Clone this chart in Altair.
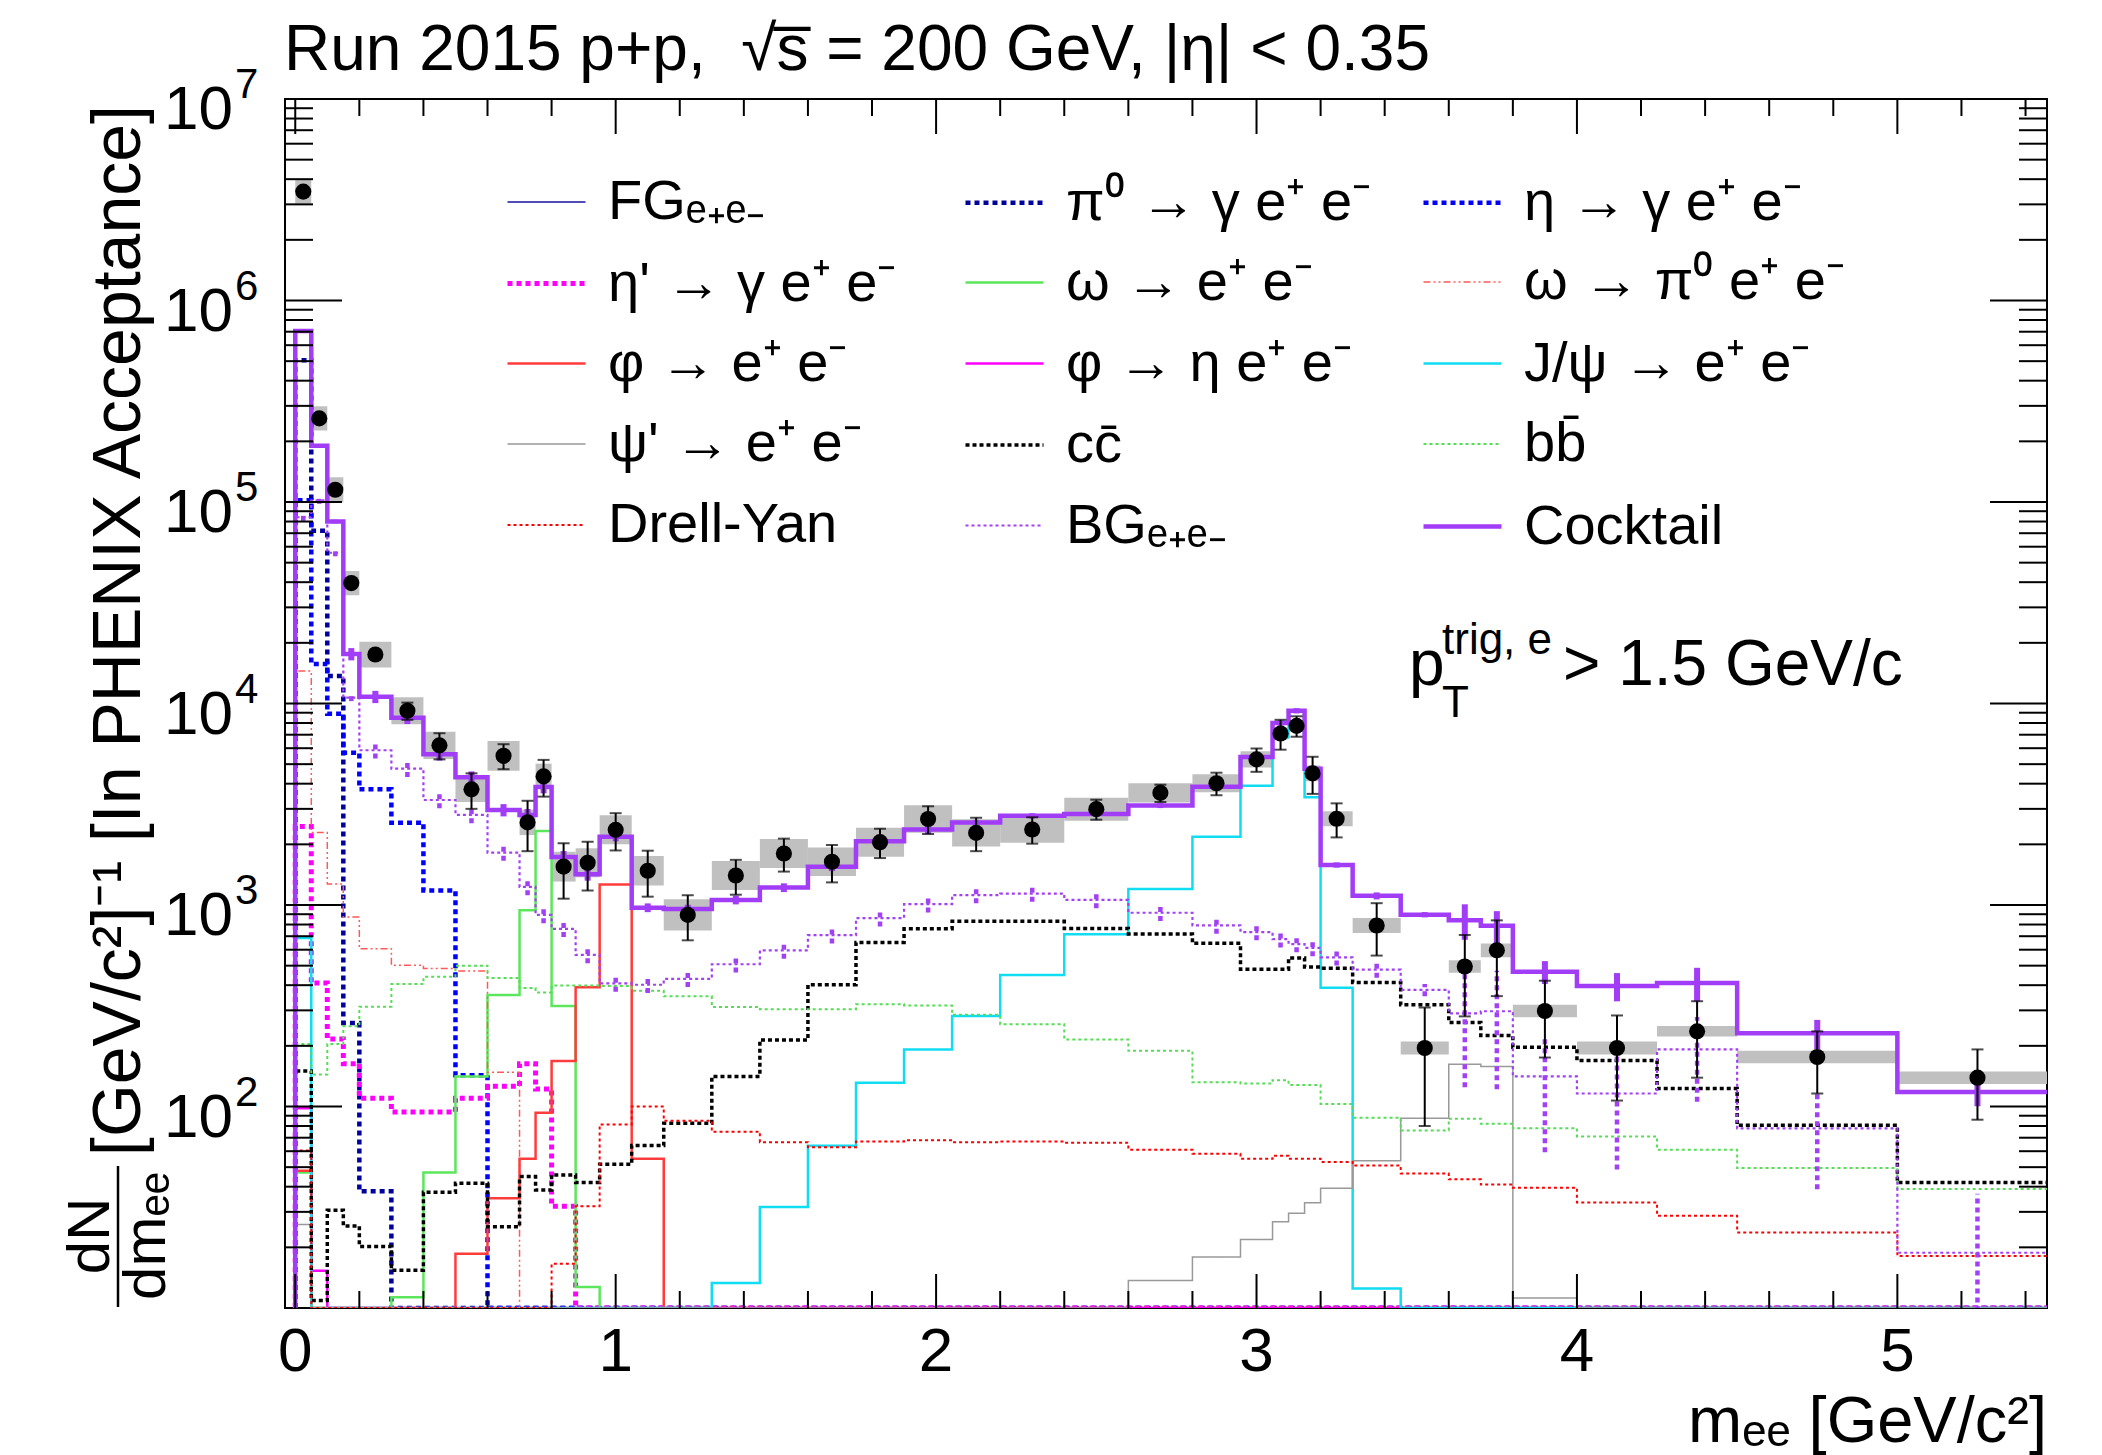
import altair as alt
import pandas as pd

# ---------------- data ----------------
edges = [0, 0.05, 0.1, 0.15, 0.2, 0.3, 0.4, 0.5, 0.6, 0.7, 0.75, 0.8, 0.875, 0.95,
         1.05, 1.15, 1.3, 1.45, 1.6, 1.75, 1.9, 2.05, 2.2, 2.4, 2.6, 2.8, 2.95, 3.05,
         3.1, 3.15, 3.2, 3.3, 3.45, 3.6, 3.7, 3.8, 4.0, 4.25, 4.5, 5.0, 5.5]

data_y = [3.47e6, 2.6e5, 1.15e5, 3.96e4, 1.75e4, 9.2e3, 6.2e3, 3.75e3, 5.5e3, 2.57e3,
          4.35e3, 1.55e3, 1.62e3, 2.36e3, 1.48e3, 893, 1.4e3, 1.8e3, 1.64e3, 2.05e3,
          2.67e3, 2.28e3, 2.37e3, 2.99e3, 3.6e3, 4.02e3, 5.28e3, 7.1e3, 7.74e3, 4.5e3,
          2.68e3, 791, 195, 495, 596, 298, 195, 236, 176, 139]
stat_err = [3e4, 3e3, 1.5e3, 800, 700, 900, 920, 750, 780, 720, 900, 475, 440, 495, 380,
            225, 275, 335, 345, 340, 420, 430, 355, 340, 355, 515, 700, 1200, 900, 940,
            515, 230, 115, 215, 243, 123, 88, 97, 60, 53]
sys_dex = [0.06, 0.06, 0.062, 0.06, 0.064, 0.067, 0.068, 0.063, 0.074, 0.063, 0.063,
           0.074, 0.072, 0.072, 0.073, 0.078, 0.072, 0.072, 0.071, 0.072, 0.068, 0.068,
           0.066, 0.057, 0.048, 0.045, 0.04, 0.029, 0.026, 0.039, 0.037, 0.037, 0.032,
           0.031, 0.034, 0.031, 0.032, 0.026, 0.031, 0.031]

pi0 = [5.05e5, 7.2e4, 1.37e4, 260, 38, 0, 0, 0, 0, 0, 0, 0, 0, 0, 0, 0, 0, 0, 0, 0,
       0, 0, 0, 0, 0, 0, 0, 0, 0, 0, 0, 0, 0, 0, 0, 0, 0, 0, 0, 0]
eta = [1.02e5, 1.57e4, 8.9e3, 5.7e3, 3.75e3, 2.56e3, 1.18e3, 143, 0, 0, 0, 0, 0, 0, 0,
       0, 0, 0, 0, 0, 0, 0, 0, 0, 0, 0, 0, 0, 0, 0, 0, 0, 0, 0, 0, 0, 0, 0, 0, 0]
etap = [2450, 410, 216, 163, 110, 94, 94, 110, 126, 163, 122, 32, 0, 0, 0, 0, 0, 0, 0,
        0, 0, 0, 0, 0, 0, 0, 0, 0, 0, 0, 0, 0, 0, 0, 0, 0, 0, 0, 0, 0]
omega_ee = [47, 0, 0, 0, 0, 11.3, 47, 141, 358, 943, 2330, 315, 12.7, 0, 0, 0, 0, 0,
            0, 0, 0, 0, 0, 0, 0, 0, 0, 0, 0, 0, 0, 0, 0, 0, 0, 0, 0, 0, 0, 0]
omega_pi0 = [1.45e4, 2290, 1270, 873, 607, 502, 484, 470, 148, 0, 0, 0, 0, 0, 0, 0, 0,
             0, 0, 0, 0, 0, 0, 0, 0, 0, 0, 0, 0, 0, 0, 0, 0, 0, 0, 0, 0, 0, 0, 0]
phi_ee = [48, 0, 0, 0, 0, 0, 0, 18.6, 35, 55, 93, 168, 391, 1265, 55, 0, 0, 0, 0, 0,
          0, 0, 0, 0, 0, 0, 0, 0, 0, 0, 0, 0, 0, 0, 0, 0, 0, 0, 0, 0]
phi_eta = [98, 15.3, 0, 0, 0, 0, 0, 0, 0, 0, 0, 0, 0, 0, 0, 0, 0, 0, 0, 0, 0, 0, 0, 0,
           0, 0, 0, 0, 0, 0, 0, 0, 0, 0, 0, 0, 0, 0, 0, 0]
jpsi = [685, 0, 0, 0, 0, 0, 0, 0, 0, 0, 0, 0, 0, 0, 0, 0, 13.3, 31.7, 63.8, 131, 192,
        281, 450, 715, 1200, 2180, 3910, 6800, 7900, 3430, 388, 12.5, 0, 0, 0, 0, 0, 0,
        0, 0]
psi2 = [26, 0, 0, 0, 0, 0, 0, 0, 0, 0, 0, 0, 0, 0, 0, 0, 0, 0, 0, 0, 0, 0, 0, 0, 13.7,
        17.9, 21.9, 26.8, 29.5, 33.3, 39.3, 53.8, 87.5, 162, 158, 11.2, 0, 0, 0, 0]
ccbar = [150, 10.9, 30.6, 25.5, 20.2, 15.4, 37.5, 41.6, 25.3, 44.9, 38.5, 45.7, 41.9,
         51.7, 64, 82.6, 141, 214, 402, 652, 762, 830, 830, 765, 718, 645, 480, 480, 546,
         492, 485, 413, 320, 261, 225, 197, 169, 123, 80.7, 41.9]
bbbar = [204, 144, 204, 250, 313, 405, 440, 500, 434, 387, 368, 398, 398, 396, 375, 352,
         312, 304, 304, 322, 317, 285, 256, 215, 189, 132, 130, 135, 128, 128, 103, 88,
         76, 87, 82, 78, 71, 61, 49.5, 39]
drell_yan = [60.5, 0, 0, 0, 0, 0, 0, 0, 0, 0, 0, 16.6, 32, 81.5, 100, 85, 75, 66.5, 62.8,
             67, 68, 66.5, 67, 66, 61, 58.3, 55, 57, 55, 55, 53, 51, 46.5, 43.5, 41, 39.5,
             33.4, 28.7, 23.7, 18.1]
bg = [8.4e4, 1.02e5, 5.6e4, 1.07e4, 5.86e3, 4.75e3, 3.32e3, 2.8e3, 1.82e3, 1.23e3, 893,
      762, 565, 408, 402, 430, 508, 595, 708, 860, 1010, 1120, 1140, 1060, 915, 792, 734,
      677, 640, 612, 550, 478, 379, 290, 297, 141, 116, 192, 77.8, 18.8]
bg_rel_err = [0.04, 0.04, 0.04, 0.04, 0.09, 0.09, 0.09, 0.09, 0.09, 0.09, 0.09, 0.09,
              0.09, 0.09, 0.09, 0.09, 0.09, 0.09, 0.09, 0.09, 0.09, 0.09, 0.09, 0.09,
              0.09, 0.09, 0.09, 0.09, 0.09, 0.09, 0.09, 0.09, 0.07, 0.57, 0.59, 0.58,
              0.58, 0.45, 0.5, 0.96]
cocktail = [7.05e5, 1.9e5, 8.0e4, 1.76e4, 1.08e4, 8.5e3, 5.6e3, 4.3e3, 2.96e3, 2.8e3,
            3.85e3, 1.73e3, 1.42e3, 2.18e3, 970, 955, 1.06e3, 1.22e3, 1.55e3, 2.07e3,
            2.37e3, 2.57e3, 2.77e3, 2.83e3, 3.12e3, 3.86e3, 5.42e3, 8.0e3, 9.2e3, 4.75e3,
            1.58e3, 1.11e3, 895, 840, 790, 466, 396, 410, 231, 118]
cocktail_rel_err = [0.02, 0.02, 0.02, 0.07, 0.07, 0.07, 0.07, 0.07, 0.07, 0.07, 0.07,
                    0.07, 0.07, 0.05, 0.05, 0.05, 0.05, 0.05, 0.05, 0.05, 0.05, 0.03,
                    0.03, 0.03, 0.03, 0.03, 0.03, 0.03, 0.03, 0.03, 0.03, 0.04, 0.03,
                    0.2, 0.18, 0.13, 0.16, 0.19, 0.165, 0.15]

# legend entries, in reading order (3 per row)
names = ["FGₑ₊ₑ₋", "π⁰ → γ e⁺ e⁻", "η → γ e⁺ e⁻",
         "η' → γ e⁺ e⁻", "ω → e⁺ e⁻", "ω → π⁰ e⁺ e⁻",
         "φ → e⁺ e⁻", "φ → η e⁺ e⁻", "J/ψ → e⁺ e⁻",
         "ψ' → e⁺ e⁻", "cc̄", "bb̄",
         "Drell-Yan", "BGₑ₊ₑ₋", "Cocktail"]
series_values = [None, pi0, eta, etap, omega_ee, omega_pi0, phi_ee, phi_eta, jpsi, psi2,
                 ccbar, bbbar, drell_yan, bg, cocktail]

x_major = [0, 1, 2, 3, 4, 5]
x_minor = [round(i * 0.2, 1) for i in range(1, 28) if i % 5]
y_major = [1e2, 1e3, 1e4, 1e5, 1e6]
y_minor = [k * 10 ** e for e in range(1, 7) for k in range(2, 10)]
y_labels = [1e2, 1e3, 1e4, 1e5, 1e6, 1e7]
y_exps = ["2", "3", "4", "5", "6", "7"]
x_labels = ["0", "1", "2", "3", "4", "5"]

# ---------------- styles ----------------
colors = ["#14149e", "#00009c", "#0000ff", "#ff00ff", "#5ce65c", "#ff5a5a", "#ff3c3c",
          "#ff00ff", "#10dcf2", "#999999", "#000000", "#55dd55", "#ff0000", "#a240f5",
          "#a13cf7"]
dashes = [[1, 0], [5, 4], [5, 4], [5, 4], [1, 0], [7, 3, 2, 3, 2, 3], [1, 0], [1, 0],
          [1, 0], [1, 0], [4, 3], [3, 3], [3, 3], [3, 3], [1, 0]]
widths = [1.5, 4.5, 4.5, 5, 2.5, 1.5, 2.5, 2.5, 2.5, 1.5, 3.5, 2, 2, 2.2, 4.5]

# the legend fills column by column: order the scale domain so it reads row by row
NCOL, NROW = 3, 5
perm = [r * NCOL + c for c in range(NCOL) for r in range(NROW)]
dom = [names[k] for k in perm]
dom_colors = [colors[k] for k in perm]
dom_dashes = [dashes[k] for k in perm]
dom_widths = [widths[k] for k in perm]

W, H = 1762, 1209
FONT = "Liberation Sans"
FLOOR = 10.0

xs = alt.Scale(domain=[-0.032, 5.467], nice=False, zero=False)
ys = alt.Scale(type="log", domain=[FLOOR, 1e7], nice=False)


def X(f):
    return alt.X(f"{f}:Q", scale=xs, axis=None)


def Y(f):
    return alt.Y(f"{f}:Q", scale=ys, axis=None)


# ---------------- tables ----------------
rows = []
for name, vals in zip(names, series_values):
    if vals is None:
        continue
    pts = [(0.0, FLOOR)] + list(zip(edges[:-1], vals)) + [(edges[-1], vals[-1])]
    for i, (xv, yv) in enumerate(pts):
        rows.append({"series": name, "x": xv, "y": max(yv, FLOOR), "i": i})
lines_df = pd.DataFrame(rows)

centers = [(a + b) / 2 for a, b in zip(edges[:-1], edges[1:])]
pts_df = pd.DataFrame({
    "x": centers, "y": data_y,
    "lo": [max(v - e, 1.0) for v, e in zip(data_y, stat_err)],
    "hi": [v + e for v, e in zip(data_y, stat_err)],
    "xl": edges[:-1], "xh": edges[1:],
    "slo": [v * 10 ** (-h) for v, h in zip(data_y, sys_dex)],
    "shi": [v * 10 ** h for v, h in zip(data_y, sys_dex)],
})
cerr_df = pd.DataFrame({
    "x": centers,
    "lo": [v * (1 - r) for v, r in zip(cocktail, cocktail_rel_err)],
    "hi": [v * (1 + r) for v, r in zip(cocktail, cocktail_rel_err)],
})
berr_df = pd.DataFrame({
    "x": centers,
    "lo": [max(v * (1 - r), 1.0) for v, r in zip(bg, bg_rel_err)],
    "hi": [v * (1 + r) for v, r in zip(bg, bg_rel_err)],
})

# ---------------- layers ----------------
boxes = alt.Chart(pts_df).mark_rect(color="#c0c0c0", clip=True).encode(
    x=X("xl"), x2="xh:Q", y=Y("slo"), y2="shi:Q")

leg = alt.Legend(orient="none", legendX=220, legendY=62, columns=NCOL, symbolType="stroke",
                 symbolSize=6084, labelFontSize=56, labelFont=FONT, labelColor="black",
                 title=None, rowPadding=11, columnPadding=27, gridAlign="all",
                 labelOffset=20, padding=0, labelLimit=800)

lines = alt.Chart(lines_df).mark_line(interpolate="step-after", clip=True).encode(
    x=X("x"), y=Y("y"),
    color=alt.Color("series:N", scale=alt.Scale(domain=dom, range=dom_colors), legend=leg),
    strokeDash=alt.StrokeDash("series:N", scale=alt.Scale(domain=dom, range=dom_dashes),
                              legend=leg),
    strokeWidth=alt.StrokeWidth("series:N",
                                scale=alt.Scale(type="ordinal", domain=dom,
                                                range=dom_widths),
                                legend=leg),
    order=alt.Order("i:Q"),
)

bg_bars = alt.Chart(berr_df).mark_rule(color="#a240f5", strokeWidth=4.5,
                                       strokeDash=[5, 4], clip=True).encode(
    x=X("x"), y=Y("lo"), y2="hi:Q")
ck_bars = alt.Chart(cerr_df).mark_rule(color="#a13cf7", strokeWidth=6, clip=True).encode(
    x=X("x"), y=Y("lo"), y2="hi:Q")

err_rule = alt.Chart(pts_df).mark_rule(color="black", strokeWidth=2, clip=True).encode(
    x=X("x"), y=Y("lo"), y2="hi:Q")
cap_lo = alt.Chart(pts_df).mark_tick(color="black", thickness=2, size=12,
                                     orient="horizontal", clip=True).encode(
    x=X("x"), y=Y("lo"))
cap_hi = alt.Chart(pts_df).mark_tick(color="black", thickness=2, size=12,
                                     orient="horizontal", clip=True).encode(
    x=X("x"), y=Y("hi"))
points = alt.Chart(pts_df).mark_circle(color="black", size=260, opacity=1).encode(
    x=X("x"), y=Y("y"))

xmaj_df = pd.DataFrame({"v": x_major})
xmin_df = pd.DataFrame({"v": x_minor})
ymaj_df = pd.DataFrame({"v": y_major})
ymin_df = pd.DataFrame({"v": y_minor})


def xticks(df, y0, y1):
    return alt.Chart(df).mark_rule(color="black", strokeWidth=2).encode(
        x=X("v"), y=alt.value(y0), y2=alt.value(y1))


def yticks(df, x0, x1):
    return alt.Chart(df).mark_rule(color="black", strokeWidth=2).encode(
        y=Y("v"), x=alt.value(x0), x2=alt.value(x1))


ticks = [
    xticks(xmaj_df, H, H - 34), xticks(xmin_df, H, H - 17),
    xticks(xmaj_df, 0, 35), xticks(xmin_df, 0, 17),
    yticks(ymaj_df, 0, 57), yticks(ymin_df, 0, 28),
    yticks(ymaj_df, W, W - 57), yticks(ymin_df, W, W - 28),
]

ylab_df = pd.DataFrame({"v": y_labels, "e": y_exps})
ylab10 = alt.Chart(ylab_df).mark_text(text="10", font=FONT, fontSize=62, align="right",
                                      baseline="alphabetic", dy=30, color="black").encode(
    y=Y("v"), x=alt.value(-52))
ylabexp = alt.Chart(ylab_df).mark_text(font=FONT, fontSize=42, align="left",
                                       baseline="alphabetic", dy=-1, color="black").encode(
    y=Y("v"), x=alt.value(-50), text="e:N")
xlab_df = pd.DataFrame({"v": x_major, "t": x_labels})
xlab = alt.Chart(xlab_df).mark_text(font=FONT, fontSize=62, align="center",
                                    baseline="alphabetic", color="black").encode(
    x=X("v"), y=alt.value(H + 63), text="t:N")

one = pd.DataFrame({"a": [0]})


def txt(s, x, y, size, align="left", angle=0):
    return alt.Chart(one).mark_text(text=s, font=FONT, fontSize=size, align=align,
                                    baseline="alphabetic", angle=angle,
                                    color="black").encode(x=alt.value(x), y=alt.value(y))


texts = [
    txt("Run 2015 p+p,\u00a0 √s̅ = 200 GeV, |η| < 0.35", -1, -29, 64),
    txt("p", 1124, 586, 64),
    txt("trig, e", 1157, 555, 44),
    txt("T", 1157, 618, 44),
    txt("> 1.5 GeV/c", 1278, 586, 64),
    txt("mₑₑ [GeV/c²]", W, 1343, 65, align="right"),
    txt("[GeV/c²]⁻¹ [In PHENIX Acceptance]", -145, 1057, 68, angle=270),
    txt("dN", -176, 1137, 60, align="center", angle=270),
    txt("dmₑₑ", -120, 1137, 60, align="center", angle=270),
]
frac_line = alt.Chart(one).mark_rule(color="black", strokeWidth=2.5).encode(
    x=alt.value(-167), y=alt.value(1067), y2=alt.value(1208))

chart = alt.layer(
    boxes, lines, bg_bars, ck_bars, err_rule, cap_lo, cap_hi, points,
    *ticks, ylab10, ylabexp, xlab, *texts, frac_line,
).properties(
    width=W, height=H,
    autosize=alt.AutoSizeParams(type="none"),
    padding={"left": 285, "top": 99, "right": 55, "bottom": 147},
    background="white",
).configure_view(stroke="black", strokeWidth=2)

chart.save("out.html", embed_options={"renderer": "svg", "actions": False})
